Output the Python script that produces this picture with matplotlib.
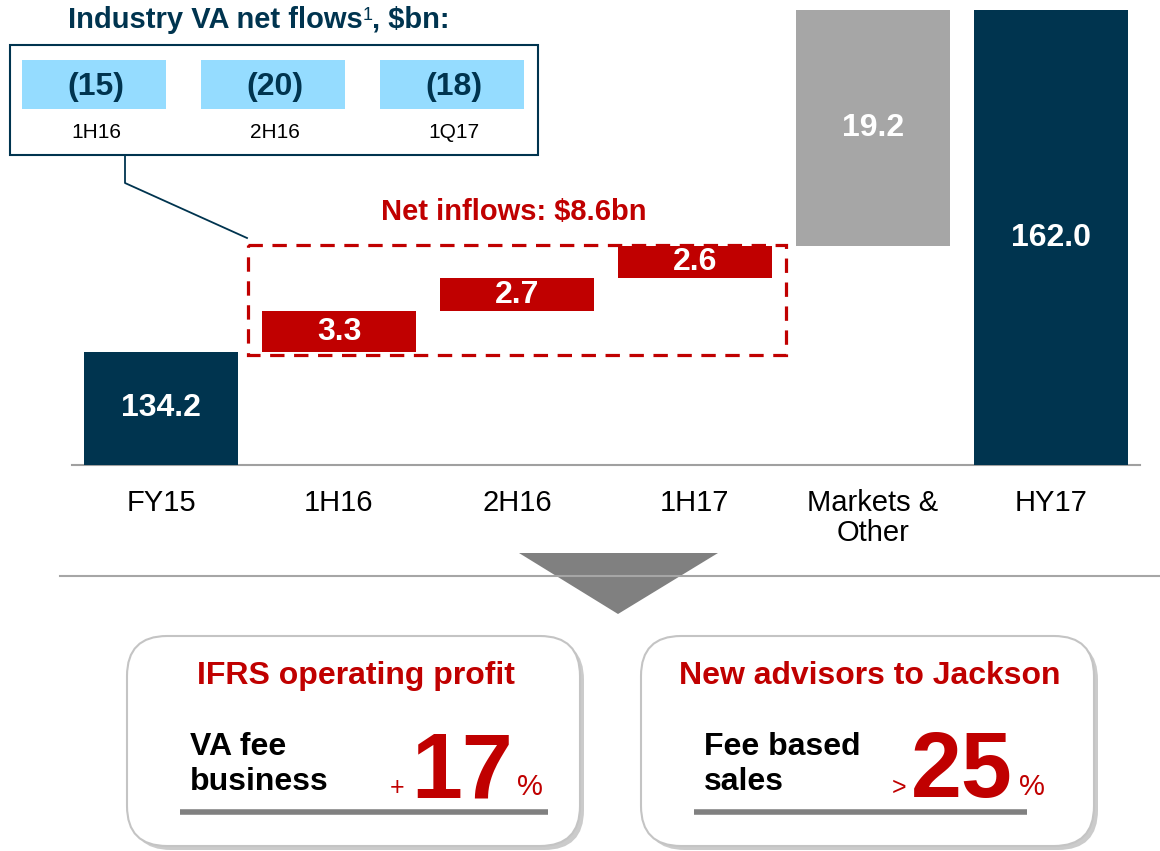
import matplotlib.pyplot as plt
import numpy as np
from matplotlib.patches import Rectangle, FancyBboxPatch, Polygon

plt.rcParams['font.family'] = ['Liberation Sans', 'DejaVu Sans']

# waterfall data ($bn)
categories = ['FY15', '1H16', '2H16', '1H17', 'Markets &\nOther', 'HY17']
start_value = 134.2
steps = [3.3, 2.7, 2.6, 19.2]
end_value = 162.0
axis_floor = 125.0

# industry VA net flows inset
inset_periods = ['1H16', '2H16', '1Q17']
inset_values = [-15, -20, -18]

navy = '#00344F'
red = '#C00000'
grey = '#A6A6A6'
light_blue = '#95DCFF'

W, H = 1160, 851
fig = plt.figure(figsize=(W / 100, H / 100), dpi=100)

# main waterfall axes
ax = fig.add_axes([72 / W, 1 - 465 / H, 1068 / W, 455 / H])
x = np.arange(len(categories))
step_bottoms = start_value + np.concatenate([[0], np.cumsum(steps)[:-1]])
bottoms = [axis_floor] + list(step_bottoms) + [axis_floor]
heights = [start_value - axis_floor] + steps + [end_value - axis_floor]
colors = [navy, red, red, red, grey, navy]
labels = [start_value] + steps + [end_value]

ax.bar(x, heights, bottom=bottoms, width=0.86, color=colors, zorder=3)
for xi, b, h, v in zip(x, bottoms, heights, labels):
    ax.text(xi, b + h / 2, f'{v:.1f}', ha='center', va='center',
            color='white', fontsize=23, fontweight='bold', zorder=4)

ax.set_xlim(-0.5, len(categories) - 0.5)
ax.set_ylim(axis_floor, end_value)
ax.set_xticks(x)
ax.set_xticklabels(categories, fontsize=21, linespacing=1.1)
ax.tick_params(axis='x', length=0, pad=17)
ax.set_yticks([])
for s in ['top', 'right', 'left']:
    ax.spines[s].set_visible(False)
ax.spines['bottom'].set_color('#A0A0A0')
ax.spines['bottom'].set_linewidth(1.5)

# overlay in pixel coordinates for the annotations
axo = fig.add_axes([0, 0, 1, 1], zorder=5)
axo.set_xlim(0, W)
axo.set_ylim(H, 0)
axo.axis('off')
axo.patch.set_alpha(0)

# dashed box around net inflows
axo.add_patch(Rectangle((248, 245), 538, 110, fill=False, edgecolor=red,
                        lw=2.3, linestyle=(0, (4.5, 3))))
axo.text(514, 212, 'Net inflows: \\$8.6bn', ha='center', va='center',
         color=red, fontsize=21, fontweight='bold')

# inset: industry flows
t1 = axo.text(68, 20, 'Industry VA net flows', ha='left', va='center',
              color=navy, fontsize=21, fontweight='bold')
axo.annotate('1', xy=(1, 0.95), xycoords=t1, xytext=(0, 0),
             textcoords='offset points', ha='left', va='top',
             color=navy, fontsize=13)
axo.annotate(', \\$bn:', xy=(1, 0), xycoords=t1, xytext=(7, 0),
             textcoords='offset points', ha='left', va='bottom',
             color=navy, fontsize=21, fontweight='bold')
axo.add_patch(Rectangle((10, 45), 528, 110, facecolor='white',
                        edgecolor=navy, lw=1.5))
for i, (p, v) in enumerate(zip(inset_periods, inset_values)):
    left = 22 + i * 179
    axo.add_patch(Rectangle((left, 60), 144, 49, facecolor=light_blue,
                            edgecolor='none'))
    axo.text(left + 74, 87, f'({abs(v)})', ha='center', va='center',
             color=navy, fontsize=23, fontweight='bold')
    axo.text(left + 74, 133, p, ha='center', va='center', color='black',
             fontsize=15)
axo.plot([125, 125, 247], [155, 183, 238], color=navy, lw=1.3)

# separator and arrow
axo.plot([60, 1160], [576, 576], color='#A6A6A6', lw=1.5)
axo.add_patch(Polygon([(519, 553), (718, 553), (618, 614)],
                      closed=True, facecolor='#808080', edgecolor='none'))

# bottom callout boxes
boxes = [
    dict(x0=127, title='IFRS operating profit', lines='VA fee\nbusiness',
         pre='+', num='17', pre_x=397, num_x=411, pct_x=517, ul=(180, 548)),
    dict(x0=641, title='New advisors to Jackson', lines='Fee based\nsales',
         pre='>', num='25', pre_x=899, num_x=911, pct_x=1019, ul=(694, 1027)),
]
for b in boxes:
    x0, w, y0, h = b['x0'], 453, 636, 210
    axo.add_patch(FancyBboxPatch((x0 + 4, y0 + 4), w, h,
                                 boxstyle='round,pad=0,rounding_size=40',
                                 facecolor='#B5B5B5', edgecolor='none',
                                 alpha=0.7))
    axo.add_patch(FancyBboxPatch((x0, y0), w, h,
                                 boxstyle='round,pad=0,rounding_size=40',
                                 facecolor='white', edgecolor='#C4C4C4',
                                 lw=1.5))
    axo.text(x0 + w / 2 + 2, 676, b['title'], ha='center', va='center',
             color=red, fontsize=23, fontweight='bold')
    axo.text(x0 + 63, 790, b['lines'], ha='left', va='baseline',
             color='black', fontsize=23, fontweight='bold', linespacing=1.2)
    axo.text(b['pre_x'], 795, b['pre'], ha='center', va='baseline',
             color=red, fontsize=18)
    axo.text(b['num_x'], 797, b['num'], ha='left', va='baseline',
             color=red, fontsize=66, fontweight='bold')
    axo.text(b['pct_x'], 795, '%', ha='left', va='baseline',
             color=red, fontsize=21)
    axo.plot(b['ul'], [812, 812], color='#808080', lw=4, solid_capstyle='butt')

fig.savefig('out.png', dpi=100)
